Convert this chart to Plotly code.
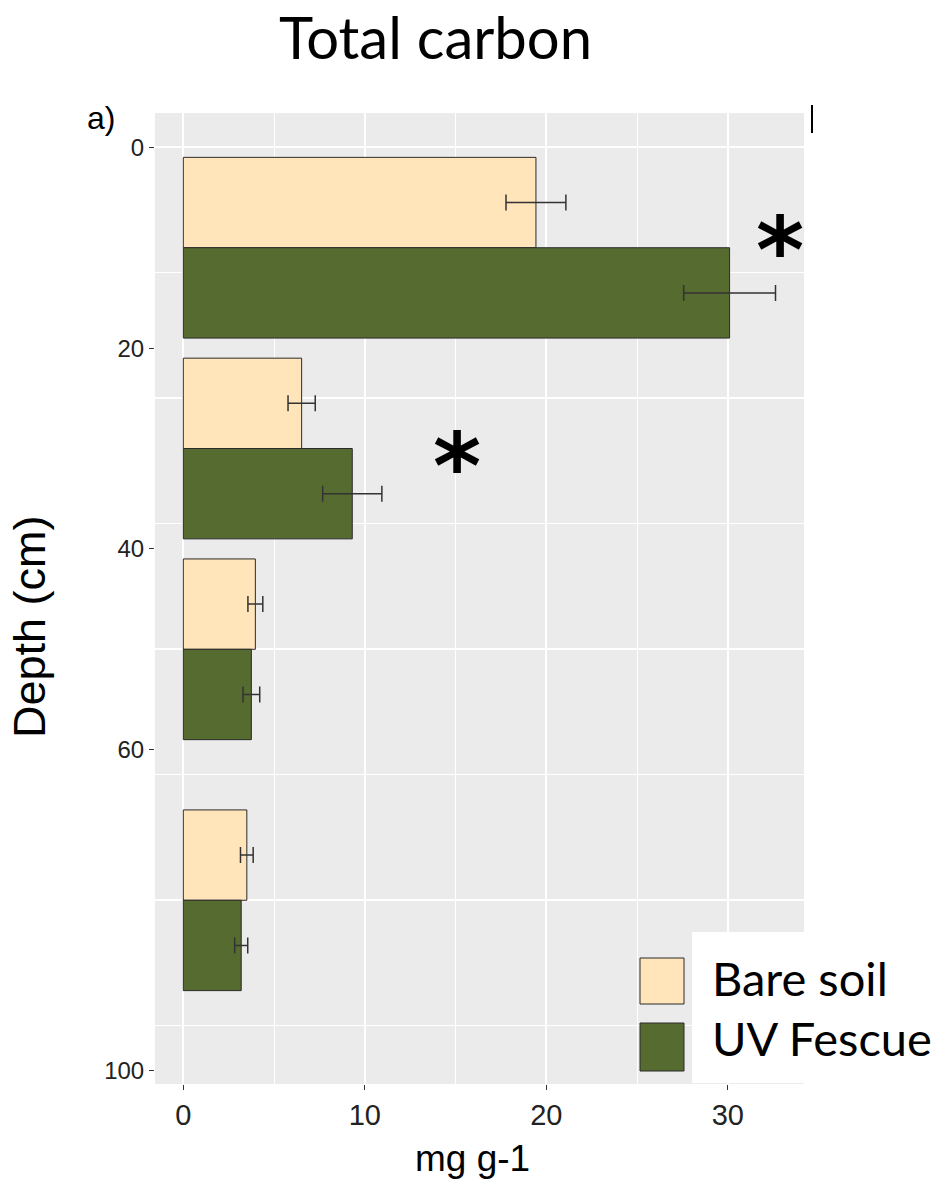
import plotly.graph_objects as go

# ---- data -------------------------------------------------------------
depth_mid = [10, 30, 50, 75]          # centre of each sampled depth layer (cm)
bar_half = 4.5                         # half of the dodge offset for each layer
series_names = ["Bare soil", "UV Fescue"]
bare_mean = [19.43, 6.52, 3.97, 3.50]  # total carbon, mg g-1
bare_se = [1.65, 0.75, 0.41, 0.35]
fescue_mean = [30.1, 9.31, 3.75, 3.19]
fescue_se = [2.53, 1.63, 0.46, 0.36]
x_ticks = [0, 10, 20, 30]
y_tick_vals = [0, 20, 40, 60, 92]
y_tick_text = ["0", "20", "40", "60", "100"]
signif_x = [32.9, 15.1]                # where the significance stars sit
signif_depth = [8.6, 30.1]

# ---- styling ----------------------------------------------------------
BARE = "#FFE5B9"
FESCUE = "#566B2F"
EDGE = "#2b2b2b"
PANEL = "#EBEBEB"
AX_FONT = "Liberation Sans, Arial, sans-serif"
TXT_FONT = "Lato, Open Sans, sans-serif"

W_FIG, H_FIG = 947, 1182
L, R, T, B = 155, 143, 113, 98
PW, PH = W_FIG - L - R, H_FIG - T - B


def px_x(px):
    return (px - L) / PW


def px_y(py):
    return (H_FIG - B - py) / PH


fig = go.Figure()

fig.add_trace(go.Bar(
    name=series_names[0], orientation="h",
    x=bare_mean, y=[m - bar_half for m in depth_mid], width=9,
    marker=dict(color=BARE, line=dict(color=EDGE, width=1)),
    error_x=dict(type="data", array=bare_se, color="#333333", thickness=1.5, width=8),
    showlegend=False,
))
fig.add_trace(go.Bar(
    name=series_names[1], orientation="h",
    x=fescue_mean, y=[m + bar_half for m in depth_mid], width=9,
    marker=dict(color=FESCUE, line=dict(color=EDGE, width=1)),
    error_x=dict(type="data", array=fescue_se, color="#333333", thickness=1.5, width=8),
    showlegend=False,
))
# empty trace so the grid axis (y2) gets drawn
fig.add_trace(go.Scatter(x=[None], y=[None], yaxis="y2", mode="markers",
                         showlegend=False, hoverinfo="skip"))

y_range = [93.3, -3.42]

fig.update_layout(
    width=W_FIG, height=H_FIG,
    margin=dict(l=L, r=R, t=T, b=B),
    paper_bgcolor="white", plot_bgcolor=PANEL,
    barmode="overlay",
    xaxis=dict(
        range=[-1.56, 34.2], tickmode="array", tickvals=x_ticks,
        showgrid=True, gridcolor="white", gridwidth=2,
        minor=dict(tickvals=[5, 15, 25], showgrid=True, gridcolor="white", gridwidth=1.2, ticks=""),
        zeroline=False, showline=False,
        ticks="outside", ticklen=5, tickcolor="#333333", tickwidth=1,
        tickfont=dict(family=AX_FONT, size=29, color="#222222"),
    ),
    yaxis=dict(
        range=y_range, tickmode="array", tickvals=y_tick_vals, ticktext=y_tick_text,
        showgrid=False, zeroline=False, showline=False,
        ticks="outside", ticklen=5, tickcolor="#333333", tickwidth=1,
        tickfont=dict(family=AX_FONT, size=24, color="#222222"),
    ),
    # grid for the depth scale (major every 25, minor every 12.5)
    yaxis2=dict(
        overlaying="y", anchor="x", side="left", range=y_range,
        tickmode="array", tickvals=[0, 25, 50, 75], showticklabels=False, ticks="",
        showgrid=True, gridcolor="white", gridwidth=2,
        minor=dict(tickvals=[12.5, 37.5, 62.5, 87.5], showgrid=True, gridcolor="white", gridwidth=1.2),
        zeroline=False, showline=False,
    ),
    showlegend=False,
)

annotations = [
    dict(text="Total carbon", x=px_x(435), y=px_y(0), xref="paper", yref="paper",
         showarrow=False, xanchor="center", yanchor="top",
         font=dict(family=TXT_FONT, size=58, color="black")),
    dict(text="a)", x=px_x(101), y=px_y(118), xref="paper", yref="paper",
         showarrow=False, xanchor="center", yanchor="middle",
         font=dict(family=AX_FONT, size=32, color="black")),
    dict(text="Depth (cm)", x=px_x(29), y=px_y(627), xref="paper", yref="paper",
         showarrow=False, xanchor="center", yanchor="middle", textangle=-90,
         font=dict(family=AX_FONT, size=45, color="black")),
    dict(text="mg g-1", x=px_x(472), y=px_y(1158), xref="paper", yref="paper",
         showarrow=False, xanchor="center", yanchor="middle",
         font=dict(family=AX_FONT, size=37, color="black")),
]
for sx, sd in zip(signif_x, signif_depth):
    annotations.append(dict(
        text="<b>*</b>", x=sx, y=sd, xref="x", yref="y", showarrow=False,
        xanchor="center", yanchor="middle", yshift=-18,
        font=dict(family="DejaVu Sans", size=92, color="black")))

# legend drawn by hand: white box, large swatches and labels
shapes = [
    dict(type="rect", xref="paper", yref="paper",
         x0=px_x(692), x1=px_x(960), y0=px_y(932), y1=px_y(1083),
         fillcolor="white", line=dict(width=0), layer="above"),
    dict(type="rect", xref="paper", yref="paper",
         x0=px_x(640), x1=px_x(684), y0=px_y(958), y1=px_y(1004),
         fillcolor=BARE, line=dict(color=EDGE, width=1), layer="above"),
    dict(type="rect", xref="paper", yref="paper",
         x0=px_x(640), x1=px_x(684), y0=px_y(1023), y1=px_y(1071),
         fillcolor=FESCUE, line=dict(color=EDGE, width=1), layer="above"),
    dict(type="line", xref="paper", yref="paper",
         x0=px_x(812), x1=px_x(812), y0=px_y(105), y1=px_y(133),
         line=dict(color="black", width=2)),
]
for name, cy in zip(series_names, [978, 1038]):
    annotations.append(dict(
        text=name, x=px_x(710), y=px_y(cy), xref="paper", yref="paper",
        showarrow=False, xanchor="left", yanchor="middle",
        font=dict(family=TXT_FONT, size=47, color="black")))

fig.update_layout(annotations=annotations, shapes=shapes)

fig.write_html("out.html")
